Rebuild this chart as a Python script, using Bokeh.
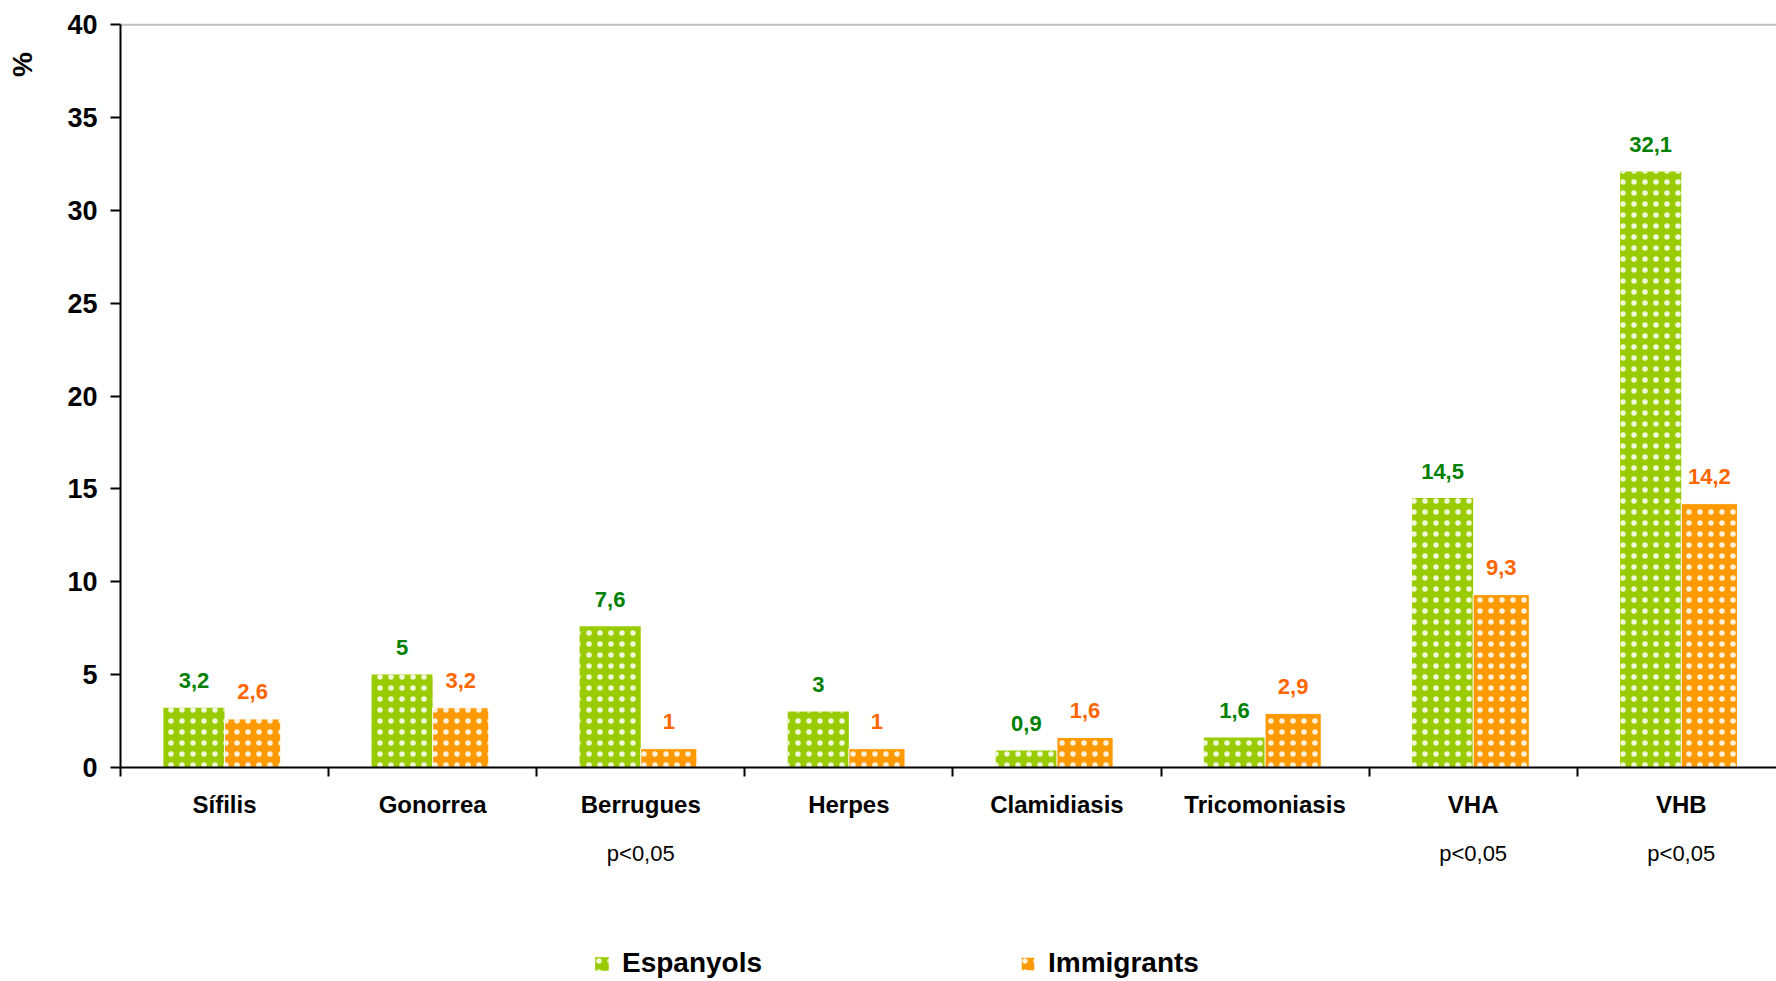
import math
from bokeh.plotting import figure
from bokeh.models import (FixedTicker, Legend, LegendItem, ColumnDataSource)
from bokeh.core.properties import value
from bokeh.embed import file_html
from bokeh.resources import INLINE

categories = ["Sífilis", "Gonorrea", "Berrugues", "Herpes", "Clamidiasis",
              "Tricomoniasis", "VHA", "VHB"]
espanyols = [3.2, 5.0, 7.6, 3.0, 0.9, 1.6, 14.5, 32.1]
immigrants = [2.6, 3.2, 1.0, 1.0, 1.6, 2.9, 9.3, 14.2]
significance = ["", "", "p<0,05", "", "", "", "p<0,05", "p<0,05"]
y_ticks = [0, 5, 10, 15, 20, 25, 30, 35, 40]
y_title = "%"

FONT = "Liberation Sans"
GREEN = "#99CC00"
ORANGE = "#FF9900"
GREEN_TXT = "#008000"
ORANGE_TXT = "#FF6600"

# ---- canvas geometry (pixels) ----
W, H = 1776, 981
AX_X = 120.0       # x pixel of the value axis
AX_Y = 766.7       # y pixel of the zero line
CAT_PX = 208.1     # pixels per category
UNIT_PX = 18.56    # pixels per percent

def dx(px):   # pixel offset -> data x
    return (px - AX_X) / CAT_PX

def dy(py):   # pixel row -> data y
    return (AX_Y - py) / UNIT_PX

def fmt(v):
    return f"{v:g}".replace(".", ",")

n = len(categories)
centers = [i + 0.5 for i in range(n)]
g_x = [c - 0.147 for c in centers]
o_x = [c + 0.135 for c in centers]
lab_off = 27 / UNIT_PX

src_g = ColumnDataSource(dict(x=g_x, top=espanyols,
                              ly=[v + lab_off for v in espanyols],
                              lab=[fmt(v) for v in espanyols]))
src_o = ColumnDataSource(dict(x=o_x, top=immigrants,
                              ly=[v + lab_off for v in immigrants],
                              lab=[fmt(v) for v in immigrants]))

p = figure(width=W, height=H, x_range=(dx(0), dx(W)), y_range=(dy(H), dy(0)),
           output_backend="svg", toolbar_location=None,
           min_border_left=0, min_border_right=0, min_border_top=0,
           min_border_bottom=0)
p.outline_line_color = None
p.background_fill_color = "white"
p.border_fill_color = "white"
p.xgrid.visible = False
p.ygrid.visible = False

# top line at 40 spanning the category area
p.segment(x0=[0], x1=[n], y0=[y_ticks[-1]], y1=[y_ticks[-1]],
          line_color="#C0C0C0", line_width=2)

rg = p.vbar(x="x", top="top", width=0.294, bottom=0, source=src_g,
            fill_color=GREEN, line_color=None,
            hatch_pattern="dot", hatch_color="white", hatch_scale=11,
            hatch_weight=0.5, hatch_alpha=0.85)
ro = p.vbar(x="x", top="top", width=0.27, bottom=0, source=src_o,
            fill_color=ORANGE, line_color="white", line_width=1,
            hatch_pattern="dot", hatch_color="white", hatch_scale=11,
            hatch_weight=0.5, hatch_alpha=0.85)

p.text(x="x", y="ly", text="lab", source=src_g, text_align="center",
       text_baseline="middle", text_color=GREEN_TXT,
       text_font=value(FONT), text_font_style="bold", text_font_size="22px")
p.text(x="x", y="ly", text="lab", source=src_o, text_align="center",
       text_baseline="middle", text_color=ORANGE_TXT,
       text_font=value(FONT), text_font_style="bold", text_font_size="22px")

# significance notes under categories
sig_x = [c for c, s in zip(centers, significance) if s]
sig_t = [s for s in significance if s]
p.text(x=sig_x, y=[dy(853)] * len(sig_x), text=sig_t, text_align="center",
       text_baseline="middle", text_color="black", text_font=value(FONT),
       text_font_size="22px")

# "%" axis title
p.text(x=[dx(22)], y=[dy(64)], text=[y_title], angle=math.pi / 2,
       text_align="center", text_baseline="middle", text_color="black",
       text_font=value(FONT), text_font_style="bold", text_font_size="28px")

# y axis (fixed at x = 0)
ya = p.yaxis[0]
ya.fixed_location = 0
ya.ticker = FixedTicker(ticks=y_ticks)
ya.bounds = (0, y_ticks[-1])
ya.axis_line_width = 2
ya.axis_line_color = "black"
ya.major_tick_line_width = 2
ya.major_tick_line_color = "black"
ya.major_tick_out = 10
ya.major_tick_in = 0
ya.minor_tick_line_color = None
ya.major_label_standoff = 13
ya.major_label_text_font = FONT
ya.major_label_text_font_style = "bold"
ya.major_label_text_font_size = "27px"
ya.major_label_text_color = "black"

# x axis (fixed at y = 0)
xa = p.xaxis[0]
xa.fixed_location = 0
xa.bounds = (0, n)
xa.ticker = FixedTicker(ticks=centers, minor_ticks=list(range(n + 1)))
xa.major_label_overrides = {c: name for c, name in zip(centers, categories)}
xa.axis_line_width = 2
xa.axis_line_color = "black"
xa.major_tick_line_color = None
xa.major_tick_out = 0
xa.major_tick_in = 0
xa.minor_tick_line_color = "black"
xa.minor_tick_line_width = 2
xa.minor_tick_out = 9
xa.minor_tick_in = 0
xa.major_label_standoff = 15
xa.major_label_text_font = FONT
xa.major_label_text_font_style = "bold"
xa.major_label_text_font_size = "24px"
xa.major_label_text_color = "black"

legend = Legend(items=[LegendItem(label="Espanyols", renderers=[rg]),
                       LegendItem(label="Immigrants", renderers=[ro])],
                orientation="horizontal", location=(593, 2),
                glyph_width=17, glyph_height=17, label_standoff=12,
                label_width=387, spacing=10, padding=0, margin=0,
                border_line_color=None, background_fill_alpha=0,
                label_text_font=FONT, label_text_font_style="bold",
                label_text_font_size="28px", label_text_color="black")
p.add_layout(legend)

open("out.html", "w").write(file_html(p, INLINE))
